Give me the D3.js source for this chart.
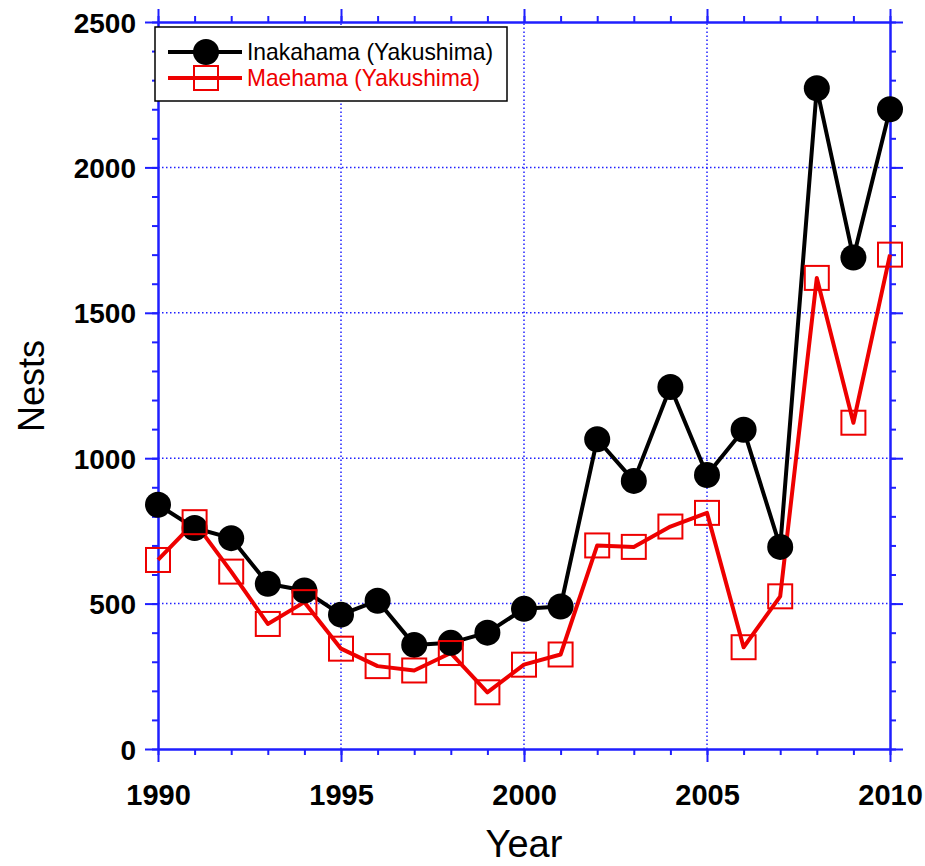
<!DOCTYPE html>
<html><head><meta charset="utf-8">
<script src="https://cdn.jsdelivr.net/npm/d3@7"></script>
<style>body{margin:0;background:#fff}svg{display:block}</style>
</head><body>
<svg id="c" width="925" height="866"></svg>
<script>
const years = d3.range(1990, 2011);
const inakahama = [840, 760, 725, 568, 545, 462, 510, 358, 365, 400, 482, 490, 1065, 922, 1245, 942, 1098, 695, 2272, 1690, 2200];
const maehama = [650, 780, 610, 430, 505, 345, 285, 270, 330, 195, 290, 325, 700, 695, 765, 812, 350, 525, 1620, 1122, 1700];
const xTicks = [1990, 1995, 2000, 2005, 2010];
const yTicks = [0, 500, 1000, 1500, 2000, 2500];
const seriesNames = ["Inakahama (Yakushima)", "Maehama (Yakushima)"];

const blue = "#1f1fff", red = "#ee0000";
const svg = d3.select("#c");
const x = d3.scaleLinear().domain([1990, 2010]).range([158, 890]);
const y = d3.scaleLinear().domain([0, 2500]).range([749, 22]);
const [x0, x1] = x.range(), [y0, y1] = y.range();

// grid
const g = svg.append("g");
g.selectAll("line.gx").data(xTicks.slice(1, -1)).join("line")
  .attr("x1", d => x(d)).attr("x2", d => x(d)).attr("y1", y0).attr("y2", y1)
  .attr("stroke", blue).attr("stroke-width", 1.5).attr("stroke-dasharray", "1.5,2.5");
g.selectAll("line.gy").data(yTicks.slice(1, -1)).join("line")
  .attr("y1", d => y(d)).attr("y2", d => y(d)).attr("x1", x0).attr("x2", x1)
  .attr("stroke", blue).attr("stroke-width", 1.5).attr("stroke-dasharray", "1.5,2.5");

const minorX = years;
const minorY = d3.range(0, 2501, 100);
function styleAxis(sel) {
  sel.selectAll("path.domain").attr("stroke", blue).attr("stroke-width", 2);
  sel.selectAll(".tick line").attr("stroke", blue).attr("stroke-width", 2);
}
function addAxis(axisFn, scale, transform, major, minor, labels, fontSize) {
  const gm = svg.append("g").attr("transform", transform)
    .call(axisFn(scale).tickValues(minor).tickSize(6).tickSizeOuter(0).tickFormat(""));
  styleAxis(gm);
  const gM = svg.append("g").attr("transform", transform)
    .call(axisFn(scale).tickValues(major).tickSize(13).tickSizeOuter(0)
      .tickPadding(axisFn === d3.axisBottom ? 22 : 9)
      .tickFormat(labels ? d3.format("d") : ""));
  styleAxis(gM);
  gM.selectAll("text").attr("fill", "#000").attr("font-family", "Liberation Sans, Arial, sans-serif")
    .attr("font-weight", "bold").attr("font-size", fontSize);
  return gM;
}
addAxis(d3.axisBottom, x, `translate(0,${y0})`, xTicks, minorX, true, 29);
addAxis(d3.axisTop, x, `translate(0,${y1})`, xTicks, minorX, false, 29);
const la = addAxis(d3.axisLeft, y, `translate(${x0},0)`, yTicks, minorY, true, 28);
la.selectAll("text").attr("dy", "0.36em");
addAxis(d3.axisRight, y, `translate(${x1},0)`, yTicks, minorY, false, 28);

// axis titles
svg.append("text").attr("x", 524).attr("y", 857).attr("text-anchor", "middle")
  .attr("font-family", "Liberation Sans, Arial, sans-serif").attr("font-size", 38).text("Year");
svg.append("text").attr("transform", "translate(44,386) rotate(-90)").attr("text-anchor", "middle")
  .attr("font-family", "Liberation Sans, Arial, sans-serif").attr("font-size", 36).text("Nests");

// data
const line = d3.line().x((d, i) => x(years[i])).y(d => y(d));
svg.append("path").datum(maehama).attr("d", line).attr("fill", "none")
  .attr("stroke", red).attr("stroke-width", 4).attr("stroke-linejoin", "round");
svg.append("path").datum(inakahama).attr("d", line).attr("fill", "none")
  .attr("stroke", "#000").attr("stroke-width", 4).attr("stroke-linejoin", "round");
svg.append("g").selectAll("circle").data(inakahama).join("circle")
  .attr("cx", (d, i) => x(years[i])).attr("cy", d => y(d)).attr("r", 13).attr("fill", "#000");
svg.append("g").selectAll("rect").data(maehama).join("rect")
  .attr("x", (d, i) => x(years[i]) - 12).attr("y", d => y(d) - 12)
  .attr("width", 24).attr("height", 24).attr("fill", "none").attr("stroke", red).attr("stroke-width", 2);

// legend
const lg = svg.append("g");
lg.append("rect").attr("x", 155).attr("y", 27).attr("width", 352).attr("height", 74)
  .attr("fill", "#fff").attr("stroke", "#000").attr("stroke-width", 1.5);
lg.append("line").attr("x1", 168).attr("x2", 242).attr("y1", 52).attr("y2", 52).attr("stroke", "#000").attr("stroke-width", 4);
lg.append("circle").attr("cx", 206).attr("cy", 52).attr("r", 13).attr("fill", "#000");
lg.append("line").attr("x1", 168).attr("x2", 242).attr("y1", 78).attr("y2", 78).attr("stroke", red).attr("stroke-width", 4);
lg.append("rect").attr("x", 194).attr("y", 66).attr("width", 24).attr("height", 24).attr("fill", "none").attr("stroke", red).attr("stroke-width", 2);
lg.append("text").attr("x", 247).attr("y", 60).attr("font-family", "Liberation Sans, Arial, sans-serif")
  .attr("font-size", 24).attr("textLength", 246).attr("lengthAdjust", "spacingAndGlyphs").attr("fill", "#000").text(seriesNames[0]);
lg.append("text").attr("x", 247).attr("y", 86).attr("font-family", "Liberation Sans, Arial, sans-serif")
  .attr("font-size", 24).attr("textLength", 233).attr("lengthAdjust", "spacingAndGlyphs").attr("fill", red).text(seriesNames[1]);
</script>
</body></html>
